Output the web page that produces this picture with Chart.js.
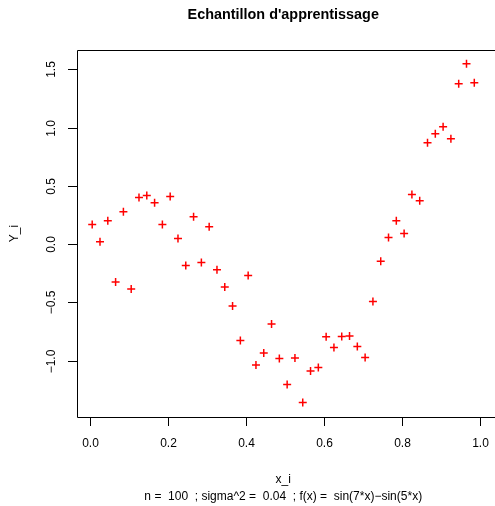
<!DOCTYPE html>
<html>
<head>
<meta charset="utf-8">
<script src="https://cdn.jsdelivr.net/npm/chart.js@4"></script>
<style>
  html, body { margin: 0; padding: 0; background: #fff; }
  #wrap { width: 495px; height: 506px; }
</style>
</head>
<body>
<div id="wrap"><canvas id="sample-chart" width="495" height="506"></canvas></div>
<script>
// training sample
const x_i = [0.005, 0.025, 0.045, 0.065, 0.085, 0.105, 0.125, 0.145, 0.165, 0.185,
             0.205, 0.225, 0.245, 0.265, 0.285, 0.305, 0.325, 0.345, 0.365, 0.385,
             0.405, 0.425, 0.445, 0.465, 0.485, 0.505, 0.525, 0.545, 0.565, 0.585,
             0.605, 0.625, 0.645, 0.665, 0.685, 0.705, 0.725, 0.745, 0.765, 0.785,
             0.805, 0.825, 0.845, 0.865, 0.885, 0.905, 0.925, 0.945, 0.965, 0.985];
const y_i = [0.169, 0.02, 0.200, -0.324, 0.278, -0.384, 0.401, 0.418, 0.355, 0.169,
             0.41, 0.049, -0.183, 0.235, -0.157, 0.149, -0.22, -0.367, -0.53, -0.828,
             -0.27, -1.037, -0.934, -0.685, -0.982, -1.205, -0.977, -1.36, -1.088, -1.06,
             -0.796, -0.888, -0.793, -0.788, -0.879, -0.974, -0.493, -0.146, 0.057, 0.2,
             0.092, 0.427, 0.372, 0.87, 0.948, 1.008, 0.905, 1.377, 1.549, 1.386];

const x_ticks = [0, 0.2, 0.4, 0.6, 0.8, 1.0];
const y_ticks = [-1.0, -0.5, 0, 0.5, 1.0, 1.5];

const titleText = "Echantillon d'apprentissage";
const xLabel = "x_i";
const yLabel = "Y_i";
const subText = "n =  100  ; sigma^2 =  0.04  ; f(x) =  sin(7*x)\u2212sin(5*x)";

const points = x_i.map(function(x, i) { return { x: x, y: y_i[i] }; });

function fmt(v) {
    let s = v.toFixed(1);
    return v < 0 ? "\u2212" + s.slice(1) : s;
}

// R style box (right side falls off the picture), ticks and texts
const rAxes = {
    id: 'rAxes',
    afterDraw(chart) {
        const ctx = chart.ctx;
        const area = chart.chartArea;
        const xs = chart.scales.x;
        const ys = chart.scales.y;
        const font = '12px "Liberation Sans", Arial, sans-serif';
        ctx.save();
        ctx.strokeStyle = '#000';
        ctx.lineWidth = 1;
        ctx.beginPath();
        ctx.moveTo(chart.width, area.top + 0.5);
        ctx.lineTo(area.left + 0.5, area.top + 0.5);
        ctx.lineTo(area.left + 0.5, area.bottom + 0.5);
        ctx.lineTo(chart.width, area.bottom + 0.5);
        ctx.stroke();

        ctx.fillStyle = '#000';
        ctx.font = font;
        ctx.textAlign = 'center';
        ctx.textBaseline = 'middle';
        x_ticks.forEach(function(t) {
            let px = Math.round(xs.getPixelForValue(t)) + 0.5;
            ctx.beginPath();
            ctx.moveTo(px, area.bottom);
            ctx.lineTo(px, area.bottom + 9);
            ctx.stroke();
            ctx.fillText(fmt(t), px, 444);
        });
        y_ticks.forEach(function(t) {
            let py = Math.round(ys.getPixelForValue(t)) + 0.5;
            ctx.beginPath();
            ctx.moveTo(area.left, py);
            ctx.lineTo(area.left - 9, py);
            ctx.stroke();
            ctx.save();
            ctx.translate(52, py);
            ctx.rotate(-Math.PI / 2);
            ctx.fillText(fmt(t), 0, 0);
            ctx.restore();
        });

        let cx = (area.left + area.right) / 2;
        let cy = (area.top + area.bottom) / 2;
        ctx.fillText(xLabel, cx, 480);
        ctx.fillText(subText, cx, 497);
        ctx.save();
        ctx.translate(15, cy);
        ctx.rotate(-Math.PI / 2);
        ctx.fillText(yLabel, 0, 0);
        ctx.restore();

        ctx.font = 'bold 14.4px "Liberation Sans", Arial, sans-serif';
        ctx.fillText(titleText, cx, 15);
        ctx.restore();
    }
};

new Chart("sample-chart", {
    type: 'scatter',
    data: {
        datasets: [{
            data: points,
            pointStyle: 'cross',
            pointRadius: 4,
            pointHoverRadius: 4,
            borderColor: '#ff0000',
            backgroundColor: '#ff0000',
            pointBorderWidth: 1.5
        }]
    },
    options: {
        responsive: false,
        animation: false,
        devicePixelRatio: 1,
        layout: { padding: { left: 77, right: 2, top: 50, bottom: 89 } },
        plugins: { legend: { display: false }, tooltip: { enabled: false } },
        scales: {
            x: { type: 'linear', min: -0.034, max: 1.024, display: false },
            y: { type: 'linear', min: -1.484, max: 1.667, display: false }
        }
    },
    plugins: [rAxes]
});
</script>
</body>
</html>
